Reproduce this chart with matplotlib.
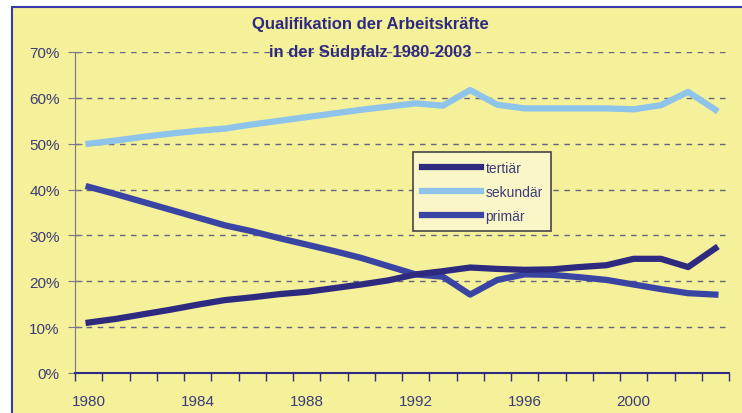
import numpy as np
import matplotlib.pyplot as plt
from matplotlib.patches import Rectangle
from matplotlib.ticker import PercentFormatter

# data (percent)
years = list(range(1980, 2004))
tertiaer = [11.0, 11.8, 12.8, 13.8, 14.9, 15.9, 16.5, 17.2, 17.7, 18.5, 19.3, 20.2,
            21.5, 22.2, 23.0, 22.7, 22.5, 22.6, 23.1, 23.5, 24.9, 24.9, 23.1, 27.2]
sekundaer = [50.0, 50.7, 51.5, 52.2, 52.8, 53.3, 54.2, 55.0, 55.8, 56.6, 57.4, 58.1,
             58.8, 58.3, 61.7, 58.5, 57.7, 57.7, 57.7, 57.7, 57.5, 58.4, 61.3, 57.4]
primaer = [40.6, 39.0, 37.3, 35.6, 33.9, 32.2, 30.9, 29.4, 28.0, 26.6, 25.1, 23.3,
           21.5, 21.0, 17.1, 20.3, 21.5, 21.4, 20.9, 20.3, 19.3, 18.3, 17.4, 17.1]
yticks = [0, 10, 20, 30, 40, 50, 60, 70]
xlabel_years = [1980, 1984, 1988, 1992, 1996, 2000]

yellow = "#F5F09A"
navy = "#2E2A80"
blue = "#3A45A3"
light = "#8EC3EA"
textc = "#3C3C78"

plt.rcParams['font.family'] = ['Liberation Sans', 'DejaVu Sans']

fig = plt.figure(figsize=(7.42, 4.14), dpi=100)
fig.patch.set_facecolor("white")
# yellow panel with blue frame, running off the right and bottom edge
fig.patches.append(Rectangle((12 / 742, -0.05), 1.0, 1 - 8 / 414 + 0.05,
                             transform=fig.transFigure, facecolor=yellow,
                             edgecolor="#3838A8", linewidth=1.5, zorder=-5))

ax = fig.add_axes([75 / 742, 40 / 414, (729 - 75) / 742, (374 - 53) / 414])
ax.set_zorder(2)
ax.patch.set_alpha(0)

x = np.arange(len(years))
ax.plot(x, sekundaer, color=light, lw=4.5, label="sekundär")
ax.plot(x, primaer, color=blue, lw=4.5, label="primär")
ax.plot(x, tertiaer, color=navy, lw=4.5, label="tertiär")

ax.set_xlim(-0.5, len(years) - 0.5)
ax.set_ylim(0, 70)
ax.set_yticks(yticks)
ax.yaxis.set_major_formatter(PercentFormatter(decimals=0))
for v in yticks[1:]:
    ax.axhline(v, color="#666680", lw=1, ls=(0, (4, 4)), zorder=0)

ax.set_xticks(np.arange(len(years) + 1) - 0.5)
ax.set_xticklabels([])
ax.set_xticks([years.index(y) for y in xlabel_years], minor=True)
ax.set_xticklabels([str(y) for y in xlabel_years], minor=True)
ax.tick_params(axis="x", which="major", direction="out", length=6, color=navy, width=1)
ax.tick_params(axis="x", which="minor", length=0, pad=15, labelsize=11, labelcolor=textc)
ax.tick_params(axis="y", direction="inout", length=10, color="#777788", labelsize=11,
               labelcolor=textc, pad=6)

for s in ["top", "right"]:
    ax.spines[s].set_visible(False)
ax.spines["left"].set_color("#777788")
ax.spines["bottom"].set_color(navy)
ax.spines["bottom"].set_linewidth(1.5)

h, l = ax.get_legend_handles_labels()
order = [2, 0, 1]
leg = ax.legend([h[i] for i in order], [l[i] for i in order],
                loc="upper left", bbox_to_anchor=((413 - 75) / 654, (374 - 153) / 321),
                borderaxespad=0, frameon=True, fancybox=False, facecolor="#FAF6C8",
                edgecolor="#444444", fontsize=10, handlelength=4.3, handletextpad=0.3,
                labelspacing=0.72, borderpad=0.62, labelcolor=textc)
leg.get_frame().set_linewidth(1.2)
leg.get_frame().set_alpha(1)

fig.text(370 / 742, 1 - 25 / 414, "Qualifikation der Arbeitskräfte", ha="center",
         va="center", fontsize=12, fontweight="bold", color=navy)
fig.text(370 / 742, 1 - 53 / 414, "in der Südpfalz 1980-2003", ha="center",
         va="center", fontsize=12, fontweight="bold", color=navy, zorder=3)

fig.savefig("out.png", dpi=100)
